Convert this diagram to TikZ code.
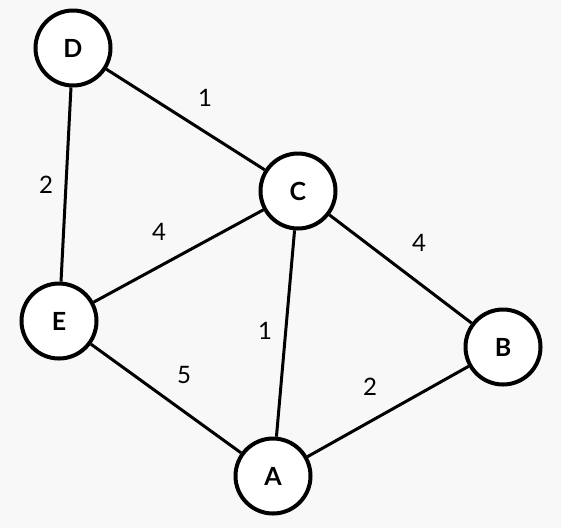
\documentclass[tikz,border=0pt]{standalone}
\usepackage{fontspec}
\setmainfont{Lato}
\usepackage{xcolor}
\usetikzlibrary{positioning}

\definecolor{paper}{RGB}{248,248,248}

\begin{document}
\begin{tikzpicture}[
    x=1pt, y=-1pt,
    vertex/.style={circle, draw=black, fill=white, line width=4pt, minimum size=75pt, inner sep=0pt, font=\fontsize{25}{28}\selectfont\bfseries},
    edge/.style={line width=3pt, black},
    weight/.style={font=\fontsize{24}{28}\selectfont, inner sep=0pt}
]

% Canvas
\fill[paper] (0,0) rectangle (561,528);
\useasboundingbox (0,0) rectangle (561,528);

% Vertices
\node[vertex] (D) at (73, 48) {D};
\node[vertex] (C) at (298, 191) {C};
\node[vertex] (E) at (59, 321) {E};
\node[vertex] (B) at (503, 347) {B};
\node[vertex] (A) at (273, 476) {A};

% Weighted edges
\draw[edge] (D) -- (C) node[weight, midway, xshift=19.5pt, yshift=21.5pt] {1};
\draw[edge] (D) -- (E) node[weight, midway, xshift=-20pt, yshift=0pt] {2};
\draw[edge] (E) -- (C) node[weight, midway, xshift=-19.5pt, yshift=24pt] {4};
\draw[edge] (C) -- (B) node[weight, midway, xshift=18.5pt, yshift=26pt] {4};
\draw[edge] (C) -- (A) node[weight, midway, xshift=-20.5pt, yshift=2.5pt] {1};
\draw[edge] (E) -- (A) node[weight, midway, xshift=18pt, yshift=23.5pt] {5};
\draw[edge] (A) -- (B) node[weight, midway, xshift=-18pt, yshift=24.5pt] {2};

\end{tikzpicture}
\end{document}
